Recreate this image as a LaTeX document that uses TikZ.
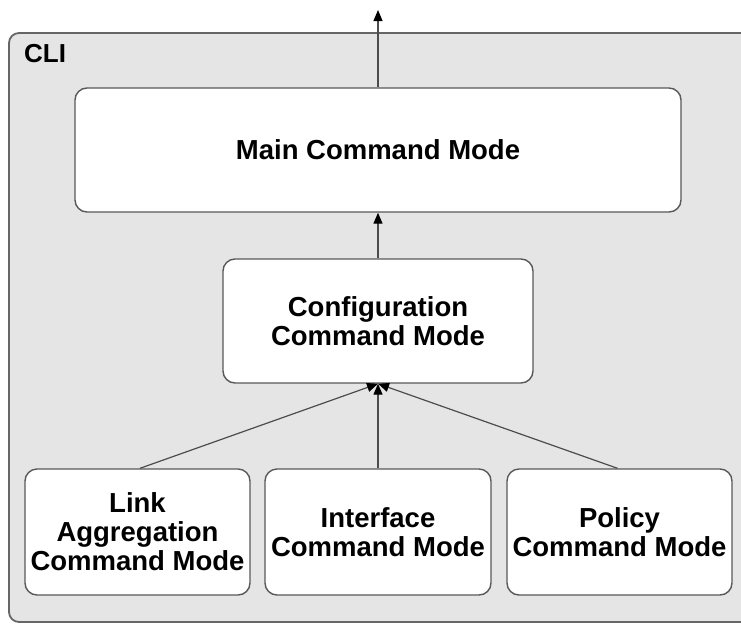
\documentclass[tikz,border=0pt]{standalone}
\usepackage{fontspec}
\setmainfont{Liberation Sans}
\usetikzlibrary{arrows.meta}
\begin{document}
\begin{tikzpicture}[x=1pt,y=-1pt,
  outerbox/.style={draw=black!60, line width=1.8pt, fill=black!10, rounded corners=10pt, minimum width=750pt, minimum height=589pt, inner sep=0pt},
  modebox/.style={draw=black!65, line width=1.4pt, fill=white, rounded corners=12pt, align=center, inner sep=0pt,
    font=\fontsize{27.5}{29}\selectfont\bfseries},
  conn/.style={draw=black!70, line width=1.2pt, -{Triangle[length=11pt,width=9pt,color=black,fill=black]}}
]
\useasboundingbox (0,0) rectangle (741,624);
\node[outerbox] (cli) at (384,327.5) {};
\node[anchor=base west, font=\fontsize{26}{28}\selectfont\bfseries, inner sep=0pt] (clilabel) at (24,62) {CLI};
\node[modebox, minimum width=606pt, minimum height=124pt] (main) at (378,150) {Main Command Mode};
\node[modebox, minimum width=310pt, minimum height=124pt] (config) at (378,321) {Configuration\\Command Mode};
\node[modebox, minimum width=225pt, minimum height=126pt] (link) at (137.5,532) {Link\\Aggregation\\Command Mode};
\node[modebox, minimum width=226pt, minimum height=126pt] (iface) at (378,532) {Interface\\Command Mode};
\node[modebox, minimum width=225pt, minimum height=126pt] (policy) at (619.5,532) {Policy\\Command Mode};
\coordinate (top) at (378,10);
\draw[conn] (main.north) -- (top);
\draw[conn] (config.north) -- (main.south);
\draw[conn] ([xshift=2.5pt]link.north) -- (config.south);
\draw[conn] (iface.north) -- (config.south);
\draw[conn] ([xshift=-2pt]policy.north) -- (config.south);
\end{tikzpicture}
\end{document}
